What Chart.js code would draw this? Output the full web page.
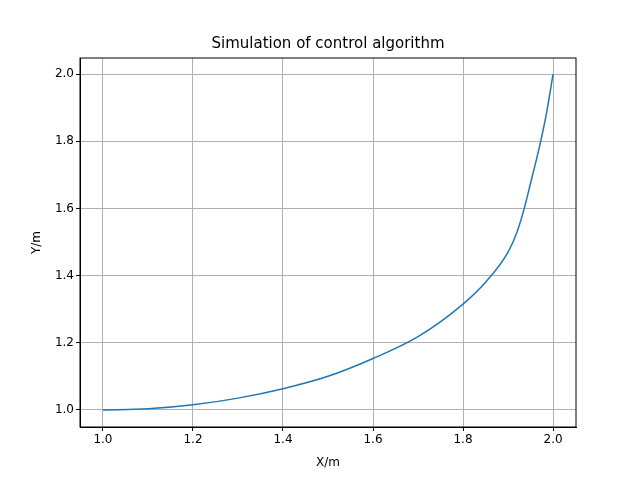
<!DOCTYPE html>
<html>
<head>
<meta charset="utf-8">
<script src="https://cdn.jsdelivr.net/npm/chart.js@4/dist/chart.umd.min.js"></script>
<style>
  html, body { margin:0; padding:0; background:#fff; }
  #wrap { width:640px; height:480px; }
</style>
</head>
<body>
<div id="wrap"><canvas id="c" width="640" height="480"></canvas></div>
<script>
// curve
const xVals = [1.0, 1.1, 1.2, 1.3, 1.4, 1.5, 1.6, 1.7, 1.8, 1.85, 1.9, 1.92, 1.935, 1.95, 1.97, 1.985, 2.0];
const yVals = [1.0, 1.003, 1.015, 1.035, 1.063, 1.1, 1.153, 1.218, 1.315, 1.38, 1.47, 1.53, 1.595, 1.675, 1.785, 1.88, 2.0];
const xTicks = [1.0, 1.2, 1.4, 1.6, 1.8, 2.0];
const yTicks = [1.0, 1.2, 1.4, 1.6, 1.8, 2.0];

const font = { family: 'DejaVu Sans', size: 12 };
Chart.defaults.color = '#000';

const frame = {
  id: 'frame',
  afterDraw(chart) {
    const { ctx, chartArea: a } = chart;
    ctx.save();
    ctx.strokeStyle = '#000'; ctx.lineWidth = 1;
    ctx.strokeRect(a.left, a.top, a.right - a.left, a.bottom - a.top);
    ctx.font = '15px DejaVu Sans';
    ctx.textAlign = 'center'; ctx.textBaseline = 'middle';
    ctx.fillText('Simulation of control algorithm', (a.left + a.right) / 2, 44);
    ctx.restore();
  }
};

new Chart(document.getElementById('c'), {
  type: 'scatter',
  data: {
    datasets: [{
      data: xVals.map((x, i) => ({ x: x, y: yVals[i] })),
      showLine: true, borderColor: '#1f77b4', borderWidth: 1.5,
      pointRadius: 0, cubicInterpolationMode: 'monotone'
    }]
  },
  options: {
    responsive: false, animation: false,
    layout: { padding: { top: 58, right: 64, left: 26, bottom: 6 } },
    plugins: { legend: { display: false }, tooltip: { enabled: false } },
    scales: {
      x: {
        type: 'linear', min: 0.949, max: 2.051,
        afterBuildTicks: s => { s.ticks = xTicks.map(v => ({ value: v })); },
        afterFit: s => { s.height = 47; },
        ticks: { font, callback: v => v.toFixed(1), padding: 2, maxRotation: 0 },
        grid: { color: '#b0b0b0', tickColor: '#000', tickLength: 4 },
        border: { color: '#000' },
        title: { display: true, text: 'X/m', font, padding: { top: 2 } }
      },
      y: {
        type: 'linear', min: 0.949, max: 2.048,
        afterBuildTicks: s => { s.ticks = yTicks.map(v => ({ value: v })); },
        afterFit: s => { s.width = 54; },
        ticks: { font, callback: v => v.toFixed(1), padding: 2 },
        grid: { color: '#b0b0b0', tickColor: '#000', tickLength: 4 },
        border: { color: '#000' },
        title: { display: true, text: 'Y/m', font, padding: { bottom: 4 } }
      }
    }
  },
  plugins: [frame]
});
</script>
</body>
</html>
